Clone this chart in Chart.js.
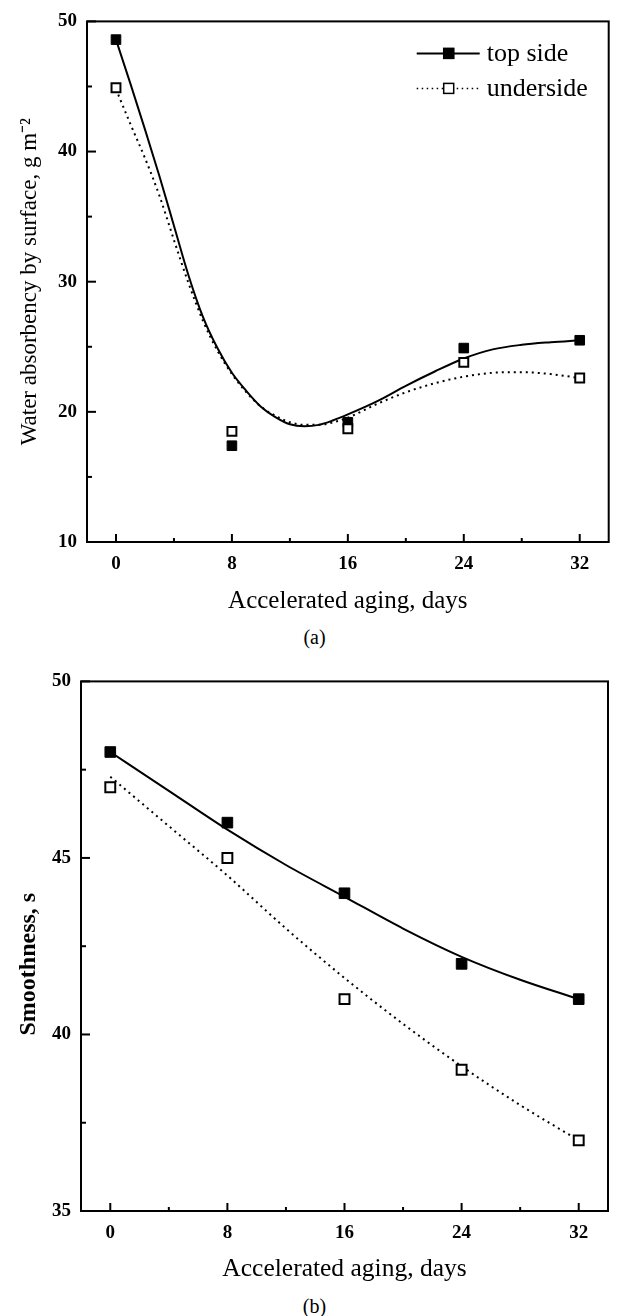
<!DOCTYPE html>
<html>
<head>
<meta charset="utf-8">
<script src="https://cdn.jsdelivr.net/npm/chart.js@4.4.1/dist/chart.umd.min.js"></script>
<style>
  body { margin: 0; background: #fff; width: 617px; height: 1316px; position: relative; overflow: hidden; }
  .box { position: absolute; left: 0; width: 617px; }
  .cap { position: absolute; width: 617px; left: 6px; text-align: center; font: 20px 'Liberation Serif', serif; color: #000; }
</style>
</head>
<body>
<div class="box" style="top:0;height:620px"><canvas id="chartA" width="617" height="620"></canvas></div>
<div class="cap" style="top:626px">(a)</div>
<div class="box" style="top:660px;height:625px"><canvas id="chartB" width="617" height="625"></canvas></div>
<div class="cap" style="top:1295px">(b)</div>
<script>
// measured points
const days = [0, 8, 16, 24, 32];
const absorbTop = [48.6, 17.4, 19.2, 24.9, 25.5];
const absorbUnder = [44.9, 18.5, 18.7, 23.8, 22.6];
const smoothTop = [48, 46, 44, 42, 41];
const smoothUnder = [47, 45, 41, 39, 37];

// fitted curves
const fitDaysA = [0, 1, 2, 3, 4, 5, 6, 7, 8, 9, 10, 11, 12, 13, 14, 15, 16, 18, 20, 22, 24, 26, 28, 30, 32];
const fitAbsorbTop = [48.6, 45.2, 41.7, 38.1, 34.3, 30.5, 27.3, 24.9, 23.0, 21.6, 20.4, 19.6, 19.05, 18.9, 19.0, 19.35, 19.8, 20.8, 22.0, 23.1, 24.1, 24.8, 25.15, 25.35, 25.5];
const fitAbsorbUnder = [44.8, 42.1, 39.5, 36.6, 33.2, 29.9, 27.0, 24.7, 22.9, 21.5, 20.4, 19.7, 19.2, 19.0, 19.0, 19.2, 19.55, 20.6, 21.5, 22.2, 22.7, 23.0, 23.05, 22.9, 22.6];
const fitDaysB = [0, 4, 8, 12, 16, 20, 24, 28, 32];
const fitSmoothTop = [48.0, 46.9, 45.8, 44.8, 43.9, 43.0, 42.2, 41.55, 41.0];
const fitSmoothUnder = [47.3, 45.9, 44.5, 43.0, 41.6, 40.3, 39.1, 38.0, 37.0];

const xTicks = [0, 4, 8, 12, 16, 20, 24, 28, 32];
const yTicksA = [10, 15, 20, 25, 30, 35, 40, 45, 50];
const yTicksB = [35, 37.5, 40, 42.5, 45, 47.5, 50];

const FONT = "'Liberation Serif', 'Times New Roman', serif";

function pts(xs, ys) { return xs.map((x, i) => ({x: x, y: ys[i]})); }

// frame around the plot and inward tick marks
const framePlugin = {
  id: 'frame',
  afterDraw(chart, args, opts) {
    const ctx = chart.ctx, a = chart.chartArea;
    ctx.save();
    ctx.strokeStyle = '#000';
    ctx.lineWidth = 2;
    ctx.strokeRect(a.left, a.top, a.right - a.left, a.bottom - a.top);
    const xs = chart.scales.x, ys = chart.scales.y;
    xs.ticks.forEach(t => {
      const px = xs.getPixelForValue(t.value);
      const len = t.value % opts.xMajor === 0 ? 8 : 4;
      ctx.beginPath(); ctx.moveTo(px, a.bottom); ctx.lineTo(px, a.bottom - len); ctx.stroke();
    });
    ys.ticks.forEach(t => {
      const py = ys.getPixelForValue(t.value);
      const len = t.value % opts.yMajor === 0 ? 9 : 5;
      ctx.beginPath(); ctx.moveTo(a.left, py); ctx.lineTo(a.left + len, py); ctx.stroke();
    });
    ctx.restore();
  }
};

// legend with line + marker samples
const legendPlugin = {
  id: 'lineLegend',
  afterDraw(chart, args, opts) {
    if (!opts.items) return;
    const ctx = chart.ctx, a = chart.chartArea;
    ctx.save();
    opts.items.forEach((it, i) => {
      const y = a.top + 32 + i * 35;
      const x0 = a.right - 192, x1 = a.right - 129, xm = a.right - 160;
      ctx.strokeStyle = '#000';
      ctx.lineWidth = it.dash ? 1.5 : 2;
      ctx.setLineDash(it.dash ? [1.5, 3.5] : []);
      ctx.beginPath(); ctx.moveTo(x0, y); ctx.lineTo(x1, y); ctx.stroke();
      ctx.setLineDash([]);
      ctx.fillStyle = it.filled ? '#000' : '#fff';
      ctx.fillRect(xm - 5.5, y - 5.5, 11, 11);
      ctx.lineWidth = 1.5;
      ctx.strokeRect(xm - 5, y - 5, 10, 10);
      ctx.fillStyle = '#000';
      ctx.font = '26px ' + FONT;
      ctx.textBaseline = 'middle';
      ctx.fillText(it.text, a.right - 122, y + 1);
    });
    ctx.restore();
  }
};

function makeChart(id, cfg) {
  const markerSize = cfg.marker;
  return new Chart(document.getElementById(id), {
    type: 'line',
    data: {
      datasets: [
        { data: pts(cfg.fitX, cfg.fitTop), borderColor: '#000', borderWidth: 2, pointRadius: 0, cubicInterpolationMode: 'monotone', order: 2 },
        { data: pts(cfg.fitX, cfg.fitUnder), borderColor: '#000', borderWidth: 2, borderDash: [2, 4], pointRadius: 0, cubicInterpolationMode: 'monotone', order: 2 },
        { data: pts(days, cfg.top), showLine: false, pointStyle: 'rect', pointRadius: markerSize, backgroundColor: '#000', borderColor: '#000', borderWidth: 1, order: 1 },
        { data: pts(days, cfg.under), showLine: false, pointStyle: 'rect', pointRadius: markerSize - 0.5, backgroundColor: '#fff', borderColor: '#000', borderWidth: 2, order: 0 }
      ]
    },
    options: {
      responsive: false,
      animation: false,
      devicePixelRatio: 1,
      layout: { padding: { top: cfg.padTop, right: 5, left: 0, bottom: 0 } },
      plugins: {
        legend: { display: false },
        tooltip: { enabled: false },
        frame: { xMajor: 8, yMajor: cfg.yMajor },
        lineLegend: { items: cfg.legend }
      },
      scales: {
        x: {
          type: 'linear', min: -2, max: 34,
          afterBuildTicks: s => { s.ticks = xTicks.map(v => ({value: v})); },
          afterFit: s => { s.height = cfg.xHeight; },
          grid: { display: false, drawTicks: false },
          border: { display: false },
          ticks: { autoSkip: false, maxRotation: 0, padding: 11, color: '#000', font: { family: FONT, size: 19, weight: 'bold' },
                   callback: v => v % 8 === 0 ? v : '' },
          title: { display: true, text: 'Accelerated aging, days', color: '#000', font: { family: FONT, size: cfg.xTitleSize }, padding: { bottom: cfg.xTitlePad } }
        },
        y: {
          type: 'linear', min: cfg.yMin, max: cfg.yMax,
          afterBuildTicks: s => { s.ticks = cfg.yTicks.map(v => ({value: v})); },
          afterFit: s => { s.width = cfg.yWidth; },
          grid: { display: false, drawTicks: false },
          border: { display: false },
          ticks: { autoSkip: false, padding: 10, color: '#000', font: { family: FONT, size: 19, weight: 'bold' },
                   callback: v => v % cfg.yMajor === 0 ? v : '' },
          title: { display: true, text: cfg.yTitle, color: '#000', font: { family: FONT, size: cfg.yTitleSize, weight: cfg.yTitleWeight }, padding: { top: cfg.yTitlePad } }
        }
      }
    },
    plugins: [framePlugin, legendPlugin]
  });
}

makeChart('chartA', {
  fitX: fitDaysA, fitTop: fitAbsorbTop, fitUnder: fitAbsorbUnder,
  top: absorbTop, under: absorbUnder, marker: 6.8,
  yMin: 10, yMax: 50, yTicks: yTicksA, yMajor: 10,
  yTitle: 'Water absorbency by surface, g m\u207B\u00B2', yTitleSize: 23, yTitleWeight: 'normal', yTitlePad: 16,
  padTop: 15, xHeight: 78, yWidth: 87, xTitlePad: 4, xTitleSize: 25,
  legend: [{ text: 'top side', filled: true }, { text: 'underside', filled: false, dash: true }]
});

makeChart('chartB', {
  fitX: fitDaysB, fitTop: fitSmoothTop, fitUnder: fitSmoothUnder,
  top: smoothTop, under: smoothUnder, marker: 7.5,
  yMin: 35, yMax: 50, yTicks: yTicksB, yMajor: 5,
  yTitle: 'Smoothness, s\u2002\u2002\u2002', yTitleSize: 24, yTitleWeight: 'bold', yTitlePad: 14,
  padTop: 14, xHeight: 74, yWidth: 81, xTitlePad: 0, xTitleSize: 25.5,
  legend: null
});
</script>
</body>
</html>
